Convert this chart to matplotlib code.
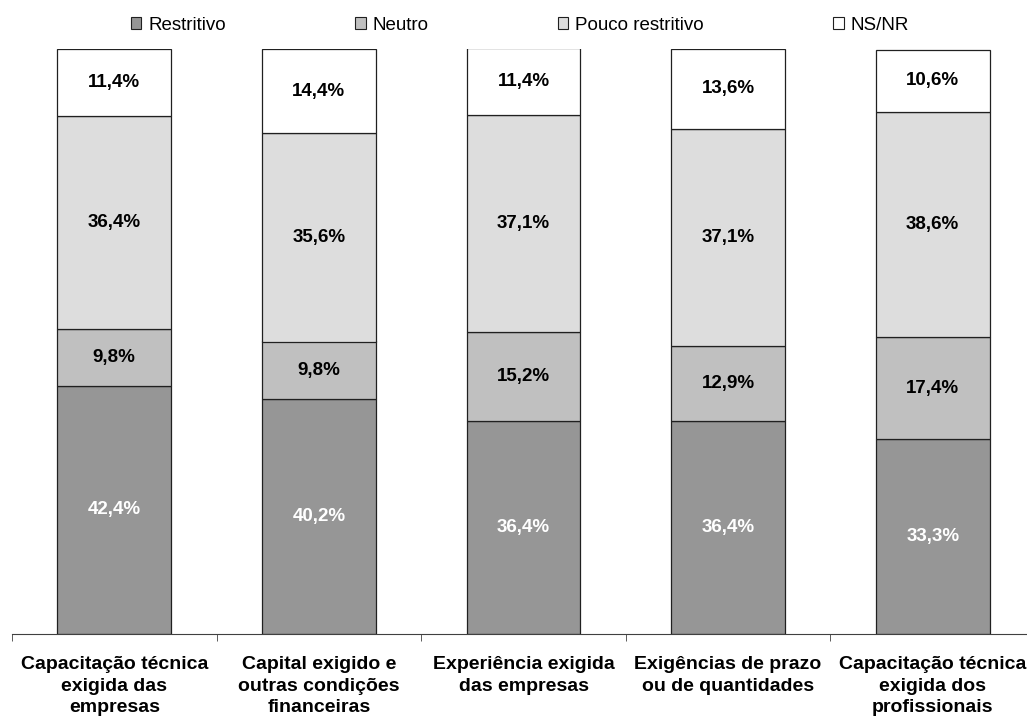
import numpy as np
import matplotlib.pyplot as plt
from matplotlib.patches import Patch

plt.rcParams['font.family'] = ['Liberation Sans', 'DejaVu Sans']

categories = [
    "Capacitação técnica\nexigida das\nempresas",
    "Capital exigido e\noutras condições\nfinanceiras",
    "Experiência exigida\ndas empresas",
    "Exigências de prazo\nou de quantidades",
    "Capacitação técnica\nexigida dos\nprofissionais",
]
series_names = ["Restritivo", "Neutro", "Pouco restritivo", "NS/NR"]
restritivo = [42.4, 40.2, 36.4, 36.4, 33.3]
neutro = [9.8, 9.8, 15.2, 12.9, 17.4]
pouco_restritivo = [36.4, 35.6, 37.1, 37.1, 38.6]
ns_nr = [11.4, 14.4, 11.4, 13.6, 10.6]

colors = ["#969696", "#c0c0c0", "#dddddd", "#ffffff"]
label_colors = ["white", "black", "black", "black"]

fig = plt.figure(figsize=(10.27, 7.24), dpi=100)
ax = fig.add_axes([12 / 1027, 90 / 724, 1023 / 1027, 585 / 724])

x = np.arange(len(categories))
bottom = np.zeros(len(categories))
for name, vals, col, lc in zip(series_names,
                               [restritivo, neutro, pouco_restritivo, ns_nr],
                               colors, label_colors):
    vals = np.array(vals)
    ax.bar(x, vals, width=0.557, bottom=bottom, color=col,
           edgecolor="#202020", linewidth=0.9, zorder=2)
    for xi, b, v in zip(x, bottom, vals):
        ax.text(xi, b + v / 2, f"{v:.1f}%".replace(".", ","), ha="center",
                va="center", fontsize=13.5, fontweight="bold", color=lc)
    bottom += vals

ax.set_xlim(-0.5, len(categories) - 0.5)
ax.set_ylim(0, 100)
for side in ["left", "right", "top"]:
    ax.spines[side].set_visible(False)
ax.spines["bottom"].set_color("#404040")
ax.set_yticks([])
ax.set_xticks(np.arange(len(categories) + 1) - 0.5, minor=True)
ax.set_xticks(x)
ax.set_xticklabels(categories, fontsize=14, fontweight="bold", linespacing=1.33)
ax.tick_params(axis="x", which="major", length=0, pad=16)
ax.tick_params(axis="x", which="minor", length=5, color="#404040")

handles = [Patch(facecolor=c, edgecolor="#202020", linewidth=0.8) for c in colors]
fig.legend(handles, series_names, loc="center", bbox_to_anchor=(520 / 1027, 1 - 25 / 724),
           ncol=4, frameon=False, fontsize=13.5, handlelength=0.55, handleheight=0.55,
           handletextpad=0.37, columnspacing=6.9)

fig.savefig("out.png", dpi=100)
